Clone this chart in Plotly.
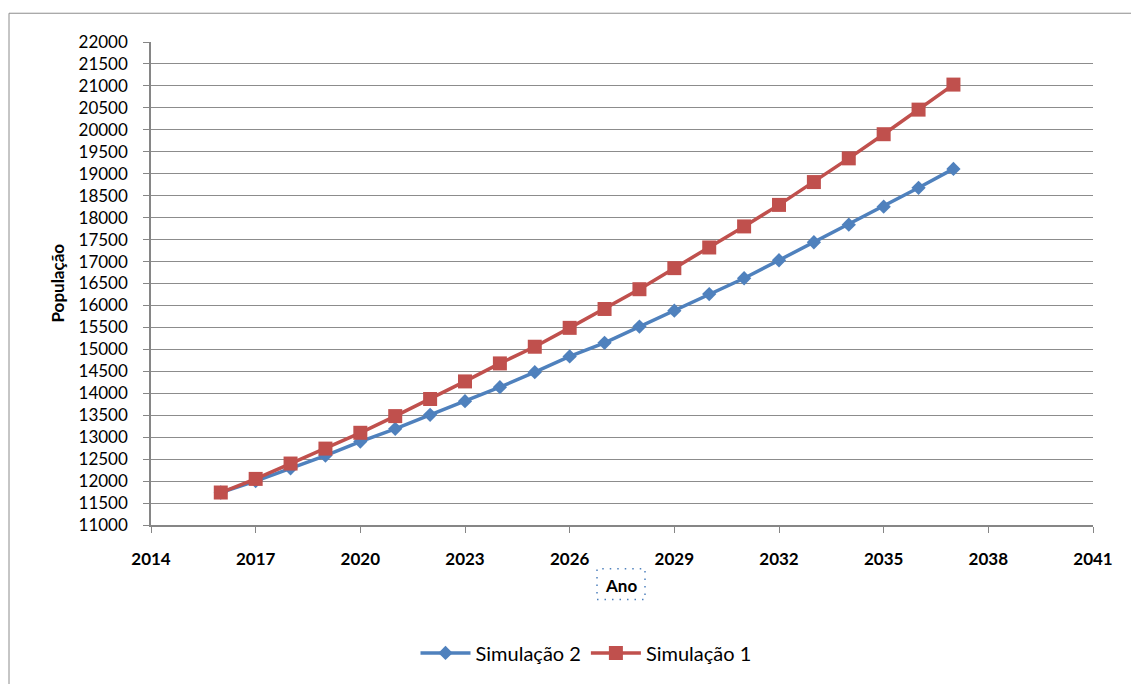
import plotly.graph_objects as go

anos = list(range(2016, 2038))
sim2 = [11740, 12000, 12290, 12580, 12900, 13190, 13510, 13820, 14140, 14480, 14840,
        15150, 15520, 15880, 16260, 16620, 17030, 17440, 17840, 18250, 18680, 19110]
sim1 = [11740, 12050, 12400, 12740, 13100, 13480, 13870, 14270, 14680, 15060, 15490,
        15920, 16370, 16850, 17320, 17800, 18290, 18810, 19350, 19900, 20460, 21030]

x_ticks = list(range(2014, 2042, 3))
y_ticks = list(range(11000, 22001, 500))

FONT = "Lato"
W, H = 1131, 684
L, R, T, B = 151, 38, 42, 155
pw, ph = W - L - R, H - T - B

def px(xp):
    return (xp - L) / pw

def py(yp):
    return (H - B - yp) / ph

fig = go.Figure()
fig.add_trace(go.Scatter(
    x=anos, y=sim2, name="Simulação 2", mode="lines+markers",
    line=dict(color="#4F81BD", width=3.5),
    marker=dict(symbol="diamond", size=11, color="#4F81BD"),
))
fig.add_trace(go.Scatter(
    x=anos, y=sim1, name="Simulação 1", mode="lines+markers",
    line=dict(color="#C0504D", width=3.5),
    marker=dict(symbol="square", size=14, color="#C0504D"),
))

fig.update_layout(
    width=W, height=H,
    margin=dict(l=L, r=R, t=T, b=B),
    paper_bgcolor="white", plot_bgcolor="white",
    font=dict(family=FONT, size=17, color="black"),
    showlegend=True,
    legend=dict(orientation="h", x=px(586), y=py(658), xanchor="center", yanchor="middle",
                font=dict(size=20), itemwidth=50, traceorder="normal"),
    xaxis=dict(range=[2014, 2041], tickvals=x_ticks, ticktext=[str(v) for v in x_ticks],
               showgrid=False, showline=True, linecolor="#868686", linewidth=1.5,
               ticks="outside", ticklen=6, tickcolor="#868686",
               tickfont=dict(family=FONT, size=17, color="black", weight="bold"),
               ticklabelstandoff=12, zeroline=False),
    yaxis=dict(range=[11000, 22000], tickvals=y_ticks, ticktext=[str(v) for v in y_ticks],
               showgrid=True, gridcolor="#8C8C8C", gridwidth=1,
               showline=True, linecolor="#868686", linewidth=1.5,
               ticks="outside", ticklen=6, tickcolor="#868686",
               tickfont=dict(family=FONT, size=17, color="black"),
               ticklabelstandoff=12, zeroline=False),
    annotations=[
        dict(text="<b>População</b>", xref="paper", yref="paper", x=px(57), y=0.5,
             textangle=-90, showarrow=False, font=dict(size=17), xanchor="center", yanchor="middle"),
        dict(text="<b>Ano</b>", xref="paper", yref="paper", x=px(621), y=py(590),
             showarrow=False, font=dict(size=17), xanchor="center", yanchor="middle"),
    ],
    shapes=[
        dict(type="rect", xref="paper", yref="paper", x0=px(9), x1=px(1140), y0=py(700), y1=py(13),
             line=dict(color="#8C8C8C", width=1), fillcolor="rgba(0,0,0,0)", layer="below"),
        dict(type="rect", xref="paper", yref="paper", x0=px(597), x1=px(645), y0=py(604), y1=py(573),
             line=dict(color="#4F81BD", width=1.5, dash="1.5px,6px"), fillcolor="rgba(0,0,0,0)"),
    ],
)

fig.write_html("out.html")
